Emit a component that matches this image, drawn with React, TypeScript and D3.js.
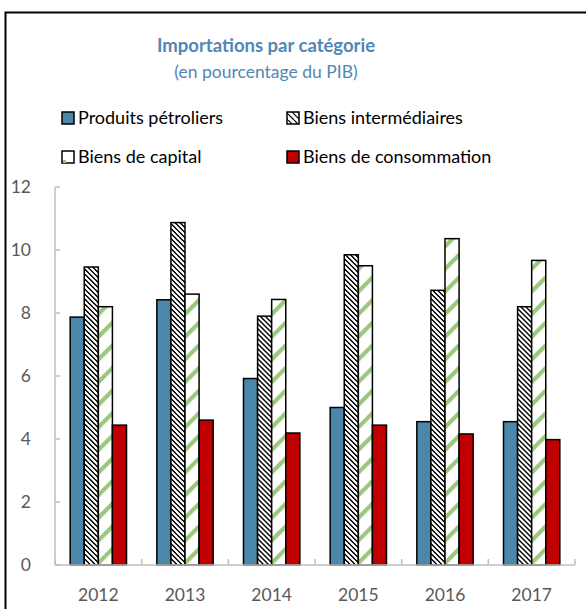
import * as d3 from "d3";

const W = 587;
const H = 609;

const years = ["2012", "2013", "2014", "2015", "2016", "2017"];
const seriesNames = [
  "Produits pétroliers",
  "Biens intermédiaires",
  "Biens de capital",
  "Biens de consommation",
];
const petroliers = [7.87, 8.42, 5.92, 5.0, 4.55, 4.55];
const intermediaires = [9.46, 10.87, 7.9, 9.85, 8.72, 8.2];
const capital = [8.2, 8.6, 8.43, 9.5, 10.36, 9.67];
const consommation = [4.44, 4.6, 4.19, 4.44, 4.16, 3.98];
const yTicks = [0, 2, 4, 6, 8, 10, 12];

const series = [petroliers, intermediaires, capital, consommation];
const fills = ["#4a87ab", "url(#hatch)", "url(#greenStripe)", "#c00000"];
const legendFills = ["#4a87ab", "url(#hatchSmall)", "#fff", "#c00000"];

const FONT = "Lato, 'Open Sans', sans-serif";

export default function App() {
  const left = 55;
  const right = 575;
  const bottom = 565;
  const top = 187;

  const x0 = d3
    .scaleBand()
    .domain(years)
    .range([left, right])
    .paddingInner(0.35)
    .paddingOuter(0.175);

  const x1 = d3.scaleBand().domain(seriesNames).range([0, x0.bandwidth()]);

  const y = d3.scaleLinear().domain([0, 12]).range([bottom, top]);

  const step = x0.step();

  return (
    <svg width={W} height={H} style={{ display: "block", position: "absolute", left: 0, top: 0 }}>
      <defs>
        <pattern id="hatch" patternUnits="userSpaceOnUse" width={5} height={5}>
          <rect width={5} height={5} fill="#fff" />
          <g fill="#000" shapeRendering="crispEdges">
            <rect x={0} y={0} width={2} height={1} />
            <rect x={1} y={1} width={2} height={1} />
            <rect x={2} y={2} width={2} height={1} />
            <rect x={3} y={3} width={2} height={1} />
            <rect x={4} y={4} width={1} height={1} />
            <rect x={0} y={4} width={1} height={1} />
          </g>
        </pattern>
        <pattern id="hatchSmall" patternUnits="userSpaceOnUse" width={12} height={12}>
          <rect width={12} height={12} fill="#fff" />
          <path d="M0,0 L12,12 M0,6 L6,12 M6,0 L12,6" stroke="#000" strokeWidth={1.2} />
        </pattern>
        <pattern
          id="greenStripe"
          patternUnits="userSpaceOnUse"
          width={16}
          height={16}
          patternTransform="rotate(-45)"
        >
          <rect width={16} height={16} fill="#fff" />
          <rect width={16} height={4.2} fill="#9cc77f" />
        </pattern>
      </defs>

      <rect x={0} y={0} width={W} height={H} fill="#fff" />
      {/* frame */}
      <path d={`M5.5,${H} L5.5,12.5 L586,12.5`} fill="none" stroke="#000" strokeWidth={2} />

      {/* title */}
      <text
        x={266}
        y={52}
        textAnchor="middle"
        fontFamily={FONT}
        fontWeight="bold"
        fontSize={18.5}
        fill="#5187b5"
      >
        Importations par catégorie
      </text>
      <text x={266} y={78} textAnchor="middle" fontFamily={FONT} fontSize={17.5} fill="#5187b5">
        (en pourcentage du PIB)
      </text>

      {/* legend */}
      {seriesNames.map((name, i) => {
        const lx = i % 2 === 0 ? 62 : 287;
        const ly = i < 2 ? 118 : 157;
        return (
          <g key={name}>
            <rect
              x={lx}
              y={ly - 6}
              width={12}
              height={12}
              fill={legendFills[i]}
              stroke="#000"
              strokeWidth={1.5}
            />
            {i === 2 && <rect x={lx + 1} y={ly + 3} width={3} height={3} fill="#9cc77f" />}
            <text x={lx + 16} y={ly} dy="0.35em" fontFamily={FONT} fontSize={18} fill="#000">
              {name}
            </text>
          </g>
        );
      })}

      {/* y axis */}
      <line x1={left} x2={left} y1={top} y2={bottom} stroke="#bfbfbf" strokeWidth={1.5} />
      {yTicks.map((t) => (
        <g key={t}>
          <line x1={left} x2={left + 5} y1={y(t)} y2={y(t)} stroke="#bfbfbf" strokeWidth={1.5} />
          <text
            x={31}
            y={y(t)}
            dy="0.35em"
            textAnchor="end"
            fontFamily={FONT}
            fontSize={17.5}
            fill="#595959"
          >
            {t}
          </text>
        </g>
      ))}

      {/* bars */}
      {years.map((yr, gi) => (
        <g key={yr} transform={`translate(${x0(yr)},0)`}>
          {series.map((vals, si) => (
            <rect
              key={si}
              x={x1(seriesNames[si])}
              y={y(vals[gi])}
              width={x1.bandwidth()}
              height={y(0) - y(vals[gi])}
              fill={fills[si]}
              stroke="#000"
              strokeWidth={1.5}
            />
          ))}
        </g>
      ))}

      {/* x axis */}
      <line x1={left} x2={right} y1={bottom} y2={bottom} stroke="#bfbfbf" strokeWidth={1.5} />
      {d3.range(years.length + 1).map((i) => (
        <line
          key={i}
          x1={left + i * step}
          x2={left + i * step}
          y1={bottom}
          y2={bottom - 6}
          stroke="#bfbfbf"
          strokeWidth={1.5}
        />
      ))}
      {years.map((yr) => (
        <text
          key={yr}
          x={(x0(yr) as number) + x0.bandwidth() / 2}
          y={595}
          dy="0.35em"
          textAnchor="middle"
          fontFamily={FONT}
          fontSize={17.5}
          fill="#595959"
        >
          {yr}
        </text>
      ))}
    </svg>
  );
}
